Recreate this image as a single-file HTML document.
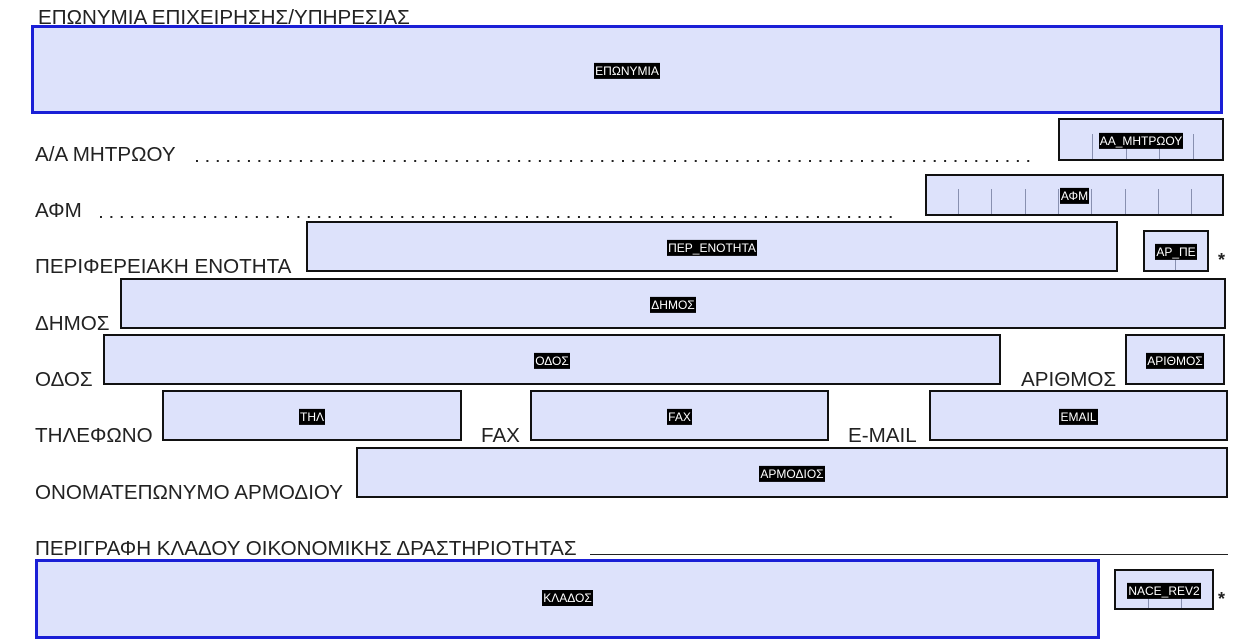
<!DOCTYPE html>
<html><head><meta charset="utf-8"><style>
body{margin:0;width:1245px;height:625px;overflow:hidden;background:#fff;position:relative;font-family:"Liberation Sans","DejaVu Sans",sans-serif;}
.l{position:absolute;font-size:20.6px;color:#222;line-height:1;white-space:nowrap;}
.b{position:absolute;box-sizing:border-box;background:#dde2fb;border:2px solid #111;}
.bl{position:absolute;box-sizing:border-box;background:#dde2fb;border:3px solid #1a1fd6;}
.t{position:absolute;left:0;right:0;top:50%;transform:translateY(-45%);text-align:center;}
.t span{background:#000;color:#fff;font-size:12px;padding:1px 1px;font-family:"Liberation Sans","DejaVu Sans",sans-serif;}
.d{position:absolute;height:2px;background-image:linear-gradient(to right,#222 2px,transparent 2px);background-size:10.4px 2px;}
.v{position:absolute;width:1px;background:#8890b0;}
.s{position:absolute;font-size:18px;font-weight:bold;color:#222;}
</style></head><body>
<div class="l" style="left:38px;top:8px;">ΕΠΩΝΥΜΙΑ ΕΠΙΧΕΙΡΗΣΗΣ/ΥΠΗΡΕΣΙΑΣ</div>
<div class="bl" style="left:31px;top:25px;width:1192px;height:89px;"><div class="t"><span>ΕΠΩΝΥΜΙΑ</span></div></div>

<div class="l" style="left:35px;top:145px;">Α/Α ΜΗΤΡΩΟΥ</div>
<div class="d" style="left:196px;top:160px;width:836px;"></div>
<div class="b" style="left:1058px;top:118px;width:166px;height:43px;">
<div class="v" style="left:32px;top:14px;height:25px"></div><div class="v" style="left:66px;top:14px;height:25px"></div><div class="v" style="left:99px;top:14px;height:25px"></div><div class="v" style="left:133px;top:14px;height:25px"></div>
<div class="t"><span>ΑΑ_ΜΗΤΡΩΟΥ</span></div></div>

<div class="l" style="left:35px;top:201px;">ΑΦΜ</div>
<div class="d" style="left:100px;top:216px;width:800px;"></div>
<div class="b" style="left:925px;top:174px;width:299px;height:42px;">
<div class="v" style="left:31px;top:13px;height:25px"></div><div class="v" style="left:64px;top:13px;height:25px"></div><div class="v" style="left:98px;top:13px;height:25px"></div><div class="v" style="left:131px;top:13px;height:25px"></div><div class="v" style="left:164px;top:13px;height:25px"></div><div class="v" style="left:198px;top:13px;height:25px"></div><div class="v" style="left:231px;top:13px;height:25px"></div><div class="v" style="left:264px;top:13px;height:25px"></div>
<div class="t"><span>ΑΦΜ</span></div></div>

<div class="l" style="left:35px;top:257px;">ΠΕΡΙΦΕΡΕΙΑΚΗ ΕΝΟΤΗΤΑ</div>
<div class="b" style="left:306px;top:221px;width:812px;height:51px;"><div class="t"><span>ΠΕΡ_ΕΝΟΤΗΤΑ</span></div></div>
<div class="b" style="left:1143px;top:230px;width:66px;height:42px;"><div class="v" style="left:30px;top:24px;height:14px"></div><div class="t"><span>ΑΡ_ΠΕ</span></div></div>
<div class="s" style="left:1218px;top:250px;">*</div>

<div class="l" style="left:35px;top:314px;">ΔΗΜΟΣ</div>
<div class="b" style="left:120px;top:278px;width:1106px;height:51px;"><div class="t"><span>ΔΗΜΟΣ</span></div></div>

<div class="l" style="left:35px;top:370px;">ΟΔΟΣ</div>
<div class="b" style="left:103px;top:334px;width:898px;height:51px;"><div class="t"><span>ΟΔΟΣ</span></div></div>
<div class="l" style="left:1021px;top:370px;">ΑΡΙΘΜΟΣ</div>
<div class="b" style="left:1125px;top:334px;width:100px;height:51px;"><div class="t"><span>ΑΡΙΘΜΟΣ</span></div></div>

<div class="l" style="left:35px;top:426px;">ΤΗΛΕΦΩΝΟ</div>
<div class="b" style="left:162px;top:390px;width:300px;height:51px;"><div class="t"><span>ΤΗΛ</span></div></div>
<div class="l" style="left:481px;top:426px;">FAX</div>
<div class="b" style="left:530px;top:390px;width:299px;height:51px;"><div class="t"><span>FAX</span></div></div>
<div class="l" style="left:848px;top:426px;">E-MAIL</div>
<div class="b" style="left:929px;top:390px;width:299px;height:51px;"><div class="t"><span>EMAIL</span></div></div>

<div class="l" style="left:35px;top:483px;">ΟΝΟΜΑΤΕΠΩΝΥΜΟ ΑΡΜΟΔΙΟΥ</div>
<div class="b" style="left:356px;top:447px;width:872px;height:51px;"><div class="t"><span>ΑΡΜΟΔΙΟΣ</span></div></div>

<div class="l" style="left:35px;top:539px;">ΠΕΡΙΓΡΑΦΗ ΚΛΑΔΟΥ ΟΙΚΟΝΟΜΙΚΗΣ ΔΡΑΣΤΗΡΙΟΤΗΤΑΣ</div>
<div style="position:absolute;left:590px;top:554px;width:638px;height:1px;background:#222;"></div>
<div class="bl" style="left:35px;top:559px;width:1065px;height:80px;"><div class="t" style="top:27px;transform:none;"><span>ΚΛΑΔΟΣ</span></div></div>
<div class="b" style="left:1114px;top:569px;width:100px;height:41px;"><div class="v" style="left:32px;top:22px;height:15px"></div><div class="v" style="left:65px;top:22px;height:15px"></div><div class="t"><span>NACE_REV2</span></div></div>
<div class="s" style="left:1218px;top:589px;">*</div>
</body></html>
